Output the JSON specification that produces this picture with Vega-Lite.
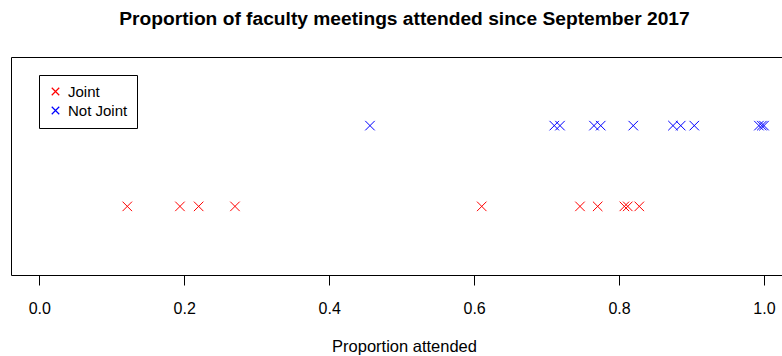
{
  "$schema": "https://vega.github.io/schema/vega-lite/v6.json",
  "width": 771,
  "height": 218,
  "autosize": {"type": "none"},
  "padding": {"left": 11, "top": 57, "right": 0, "bottom": 81},
  "title": {
    "text": "Proportion of faculty meetings attended since September 2017",
    "fontSize": 19.2,
    "fontWeight": "bold",
    "font": "Liberation Sans",
    "color": "#000000",
    "anchor": "middle",
    "frame": "group",
    "dx": 8,
    "baseline": "alphabetic",
    "offset": 13
  },
  "data": {
    "values": [
      {"group": "Joint", "proportion": 0.1214},
      {"group": "Joint", "proportion": 0.1941},
      {"group": "Joint", "proportion": 0.2199},
      {"group": "Joint", "proportion": 0.2700},
      {"group": "Joint", "proportion": 0.6105},
      {"group": "Joint", "proportion": 0.7461},
      {"group": "Joint", "proportion": 0.7705},
      {"group": "Joint", "proportion": 0.8073},
      {"group": "Joint", "proportion": 0.8120},
      {"group": "Joint", "proportion": 0.8279},
      {"group": "Not Joint", "proportion": 0.4563},
      {"group": "Not Joint", "proportion": 0.7106},
      {"group": "Not Joint", "proportion": 0.7185},
      {"group": "Not Joint", "proportion": 0.7654},
      {"group": "Not Joint", "proportion": 0.7747},
      {"group": "Not Joint", "proportion": 0.8196},
      {"group": "Not Joint", "proportion": 0.8744},
      {"group": "Not Joint", "proportion": 0.8851},
      {"group": "Not Joint", "proportion": 0.9038},
      {"group": "Not Joint", "proportion": 0.993},
      {"group": "Not Joint", "proportion": 0.997},
      {"group": "Not Joint", "proportion": 1.0}
    ]
  },
  "mark": {
    "type": "point",
    "shape": "M-1,-1L1,1M-1,1L1,-1",
    "filled": false,
    "size": 90,
    "strokeWidth": 1,
    "opacity": 1
  },
  "encoding": {
    "x": {
      "field": "proportion",
      "type": "quantitative",
      "scale": {"domain": [-0.03905, 1.02484], "nice": false, "zero": false},
      "axis": {
        "title": "Proportion attended",
        "titleFont": "Liberation Sans",
        "titleFontSize": 16.5,
        "titleFontWeight": "normal",
        "titleColor": "#000000",
        "titleBaseline": "alphabetic",
        "titleX": 393,
        "titleY": 76,
        "titleAnchor": "middle",
        "values": [0, 0.2, 0.4, 0.6, 0.8, 1.0],
        "format": ".1f",
        "domain": false,
        "grid": false,
        "ticks": true,
        "tickSize": 10,
        "tickColor": "#000000",
        "tickWidth": 1,
        "labelFont": "Liberation Sans",
        "labelFontSize": 16,
        "labelColor": "#000000",
        "labelPadding": 15,
        "labelFlush": false,
        "labelOverlap": false
      }
    },
    "y": {
      "field": "group",
      "type": "nominal",
      "scale": {"type": "point", "domain": ["Not Joint", "Joint"], "padding": 0.85},
      "axis": null
    },
    "color": {
      "field": "group",
      "type": "nominal",
      "scale": {"domain": ["Joint", "Not Joint"], "range": ["#FF0000", "#0000FF"]},
      "legend": {
        "title": null,
        "orient": "none",
        "legendX": 28,
        "legendY": 18,
        "direction": "vertical",
        "fillColor": "#FFFFFF",
        "strokeColor": "#000000",
        "padding": 9,
        "cornerRadius": 0,
        "symbolType": "M-1,-1L1,1M1,-1L-1,1",
        "symbolSize": 56,
        "symbolStrokeWidth": 1.2,
        "labelFont": "Liberation Sans",
        "labelFontSize": 15,
        "labelColor": "#000000",
        "labelOffset": 5,
        "rowPadding": 3
      }
    }
  },
  "config": {
    "view": {"stroke": "#000000", "strokeWidth": 1}
  }
}
